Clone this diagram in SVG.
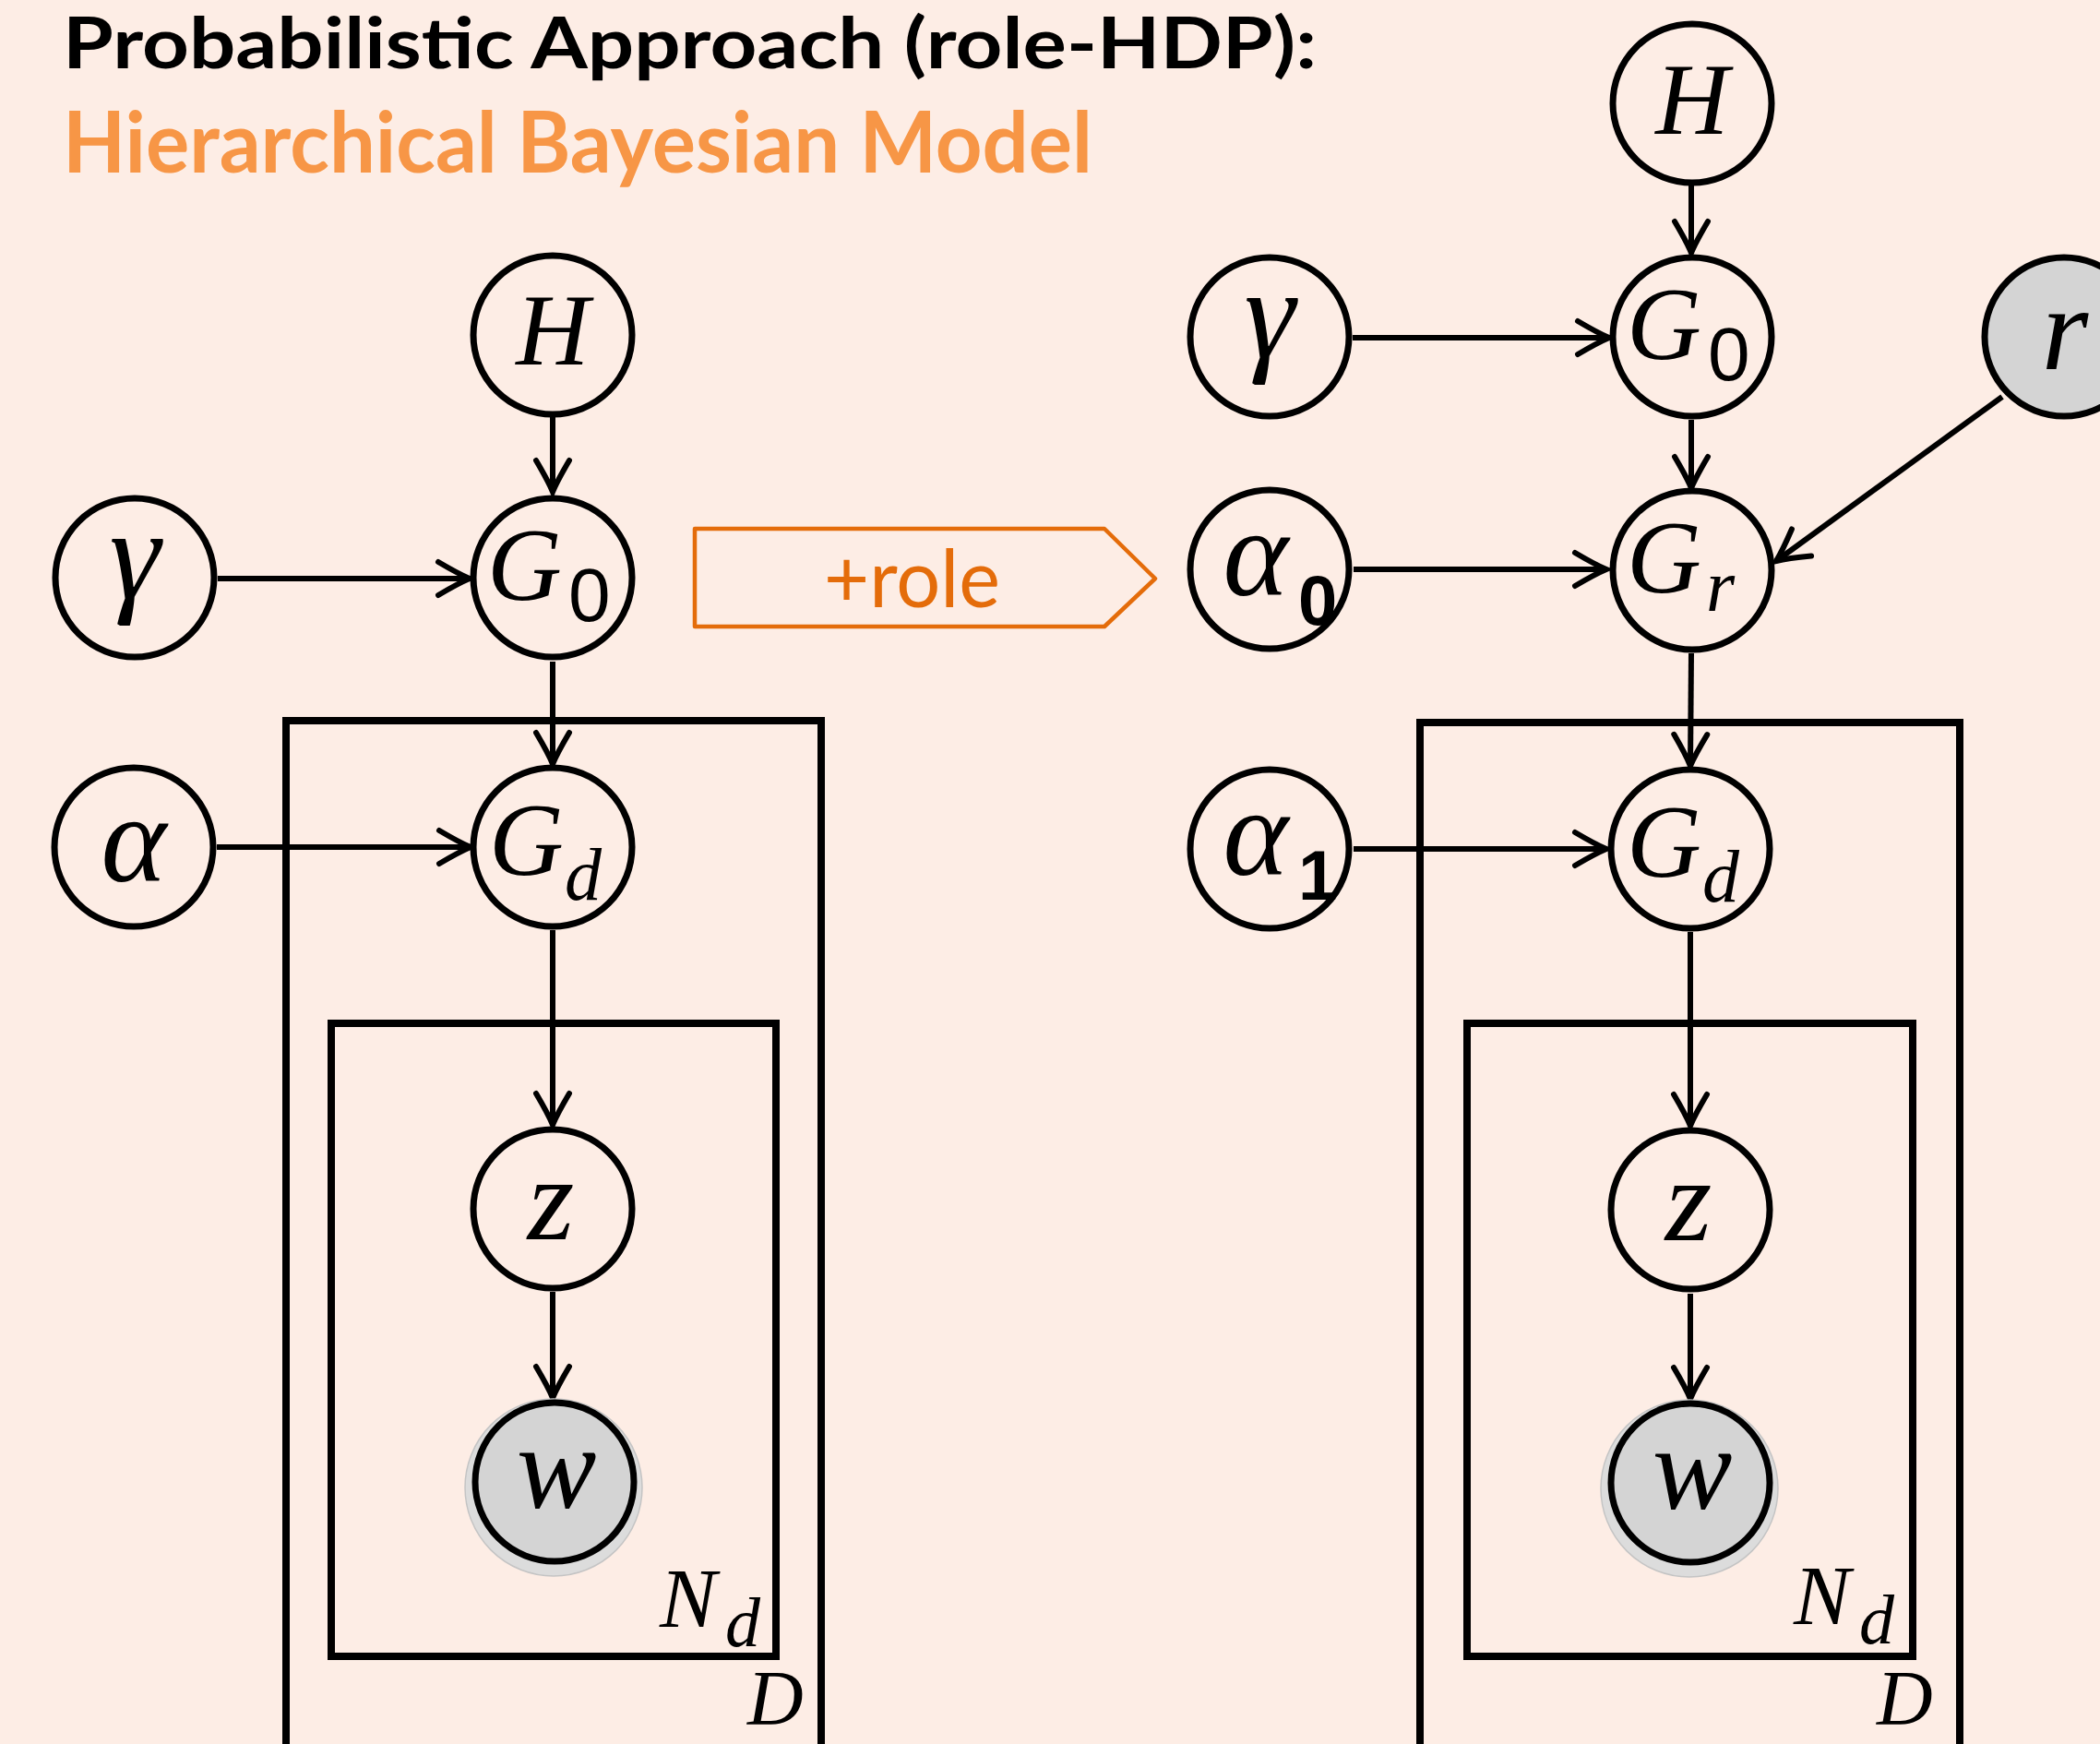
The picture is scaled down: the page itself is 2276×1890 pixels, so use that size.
<svg xmlns="http://www.w3.org/2000/svg" width="2276" height="1890" viewBox="0 0 2276 1890">
<style>
.bg{fill:#FDEDE5}
.node{fill:none;stroke:#000;stroke-width:7}
.obs{fill:#D4D4D4;stroke:#000;stroke-width:7}
.halo{fill:#DCDCDC;stroke:#C4C4C4;stroke-width:1.5}
.plate{fill:none;stroke:#000;stroke-width:8}
.edge{fill:none;stroke:#000;stroke-width:6}
.m{font-family:"Liberation Serif","DejaVu Serif",serif;font-style:italic;fill:#000}
.s{font-family:"Liberation Sans","DejaVu Sans",sans-serif;fill:#000}
.sb{font-family:"Liberation Sans","DejaVu Sans",sans-serif;font-weight:bold;fill:#000}
.t1{font-family:Lato,"Open Sans","Liberation Sans",sans-serif;font-weight:bold;fill:#000;font-size:76px}
.t2{font-family:Lato,"Open Sans","Liberation Sans",sans-serif;font-weight:bold;fill:#F79646;font-size:92px}
.role{fill:none;stroke:#E46C0A;stroke-width:4.5;stroke-linejoin:round}
.roletxt{font-family:Lato,"Open Sans","Liberation Sans",sans-serif;fill:#E46C0A;font-size:88px}
</style>
<defs>
<marker id="arr" viewBox="-40 -22 46 44" refX="0" refY="0" markerWidth="46" markerHeight="44" markerUnits="userSpaceOnUse" orient="auto">
<path d="M-34,-18 Q-12,-5 0,0 Q-12,5 -34,18" fill="none" stroke="#000" stroke-width="6" stroke-linecap="round"/>
</marker>
</defs>
<rect class="bg" x="0" y="0" width="2276" height="1890"/>

<g id="title">
<text class="t1" x="68" y="74" textLength="1359" lengthAdjust="spacingAndGlyphs">Probabilistic Approach (role-HDP):</text>
<text class="t2" x="68" y="187" textLength="1116" lengthAdjust="spacingAndGlyphs">Hierarchical Bayesian Model</text>
</g>

<g id="role-arrow">
<path class="role" d="M753,573 L1197,573 L1252,627 L1197,679 L753,679 Z"/>
<text class="roletxt" x="893" y="658" textLength="191" lengthAdjust="spacingAndGlyphs">+role</text>
</g>

<g id="plates">
<path class="plate" d="M310,1900 L310,781 L890,781 L890,1900"/>
<rect class="plate" x="359" y="1109" width="482" height="686"/>
<text class="m" x="715" y="1763" font-size="92">N</text>
<text class="m" x="786" y="1784" font-size="76">d</text>
<text class="m" x="810" y="1869" font-size="84">D</text>

<path class="plate" d="M1539,1900 L1539,783 L2124,783 L2124,1900"/>
<rect class="plate" x="1590" y="1109" width="483" height="686"/>
<text class="m" x="1944" y="1760" font-size="92">N</text>
<text class="m" x="2015" y="1781" font-size="76">d</text>
<text class="m" x="2034" y="1869" font-size="84">D</text>
</g>

<g id="connectors">
<line class="edge" x1="599" y1="452" x2="599" y2="533" marker-end="url(#arr)"/>
<line class="edge" x1="236" y1="627" x2="509" y2="627" marker-end="url(#arr)"/>
<line class="edge" x1="599" y1="717" x2="599" y2="828" marker-end="url(#arr)"/>
<line class="edge" x1="235" y1="918" x2="510" y2="918" marker-end="url(#arr)"/>
<line class="edge" x1="599" y1="1008" x2="599" y2="1219" marker-end="url(#arr)"/>
<line class="edge" x1="599" y1="1400" x2="599" y2="1515" marker-end="url(#arr)"/>

<line class="edge" x1="1833" y1="201" x2="1833" y2="274" marker-end="url(#arr)"/>
<line class="edge" x1="1466" y1="366" x2="1744" y2="366" marker-end="url(#arr)"/>
<line class="edge" x1="1833" y1="455" x2="1833" y2="529" marker-end="url(#arr)"/>
<line class="edge" x1="2170" y1="430" x2="1925" y2="608" marker-end="url(#arr)"/>
<line class="edge" x1="1467" y1="617" x2="1741" y2="617" marker-end="url(#arr)"/>
<line class="edge" x1="1833" y1="708" x2="1832" y2="830" marker-end="url(#arr)"/>
<line class="edge" x1="1467" y1="920" x2="1741" y2="920" marker-end="url(#arr)"/>
<line class="edge" x1="1832" y1="1010" x2="1832" y2="1220" marker-end="url(#arr)"/>
<line class="edge" x1="1832" y1="1402" x2="1832" y2="1516" marker-end="url(#arr)"/>
</g>

<g id="L-H"><circle class="node" cx="599" cy="363" r="86"/><text class="m" x="599" y="395" font-size="110" text-anchor="middle">H</text></g>
<g id="L-G0"><circle class="node" cx="599" cy="626" r="86"/><text class="m" x="528" y="650" font-size="112">G</text><text class="s" x="616" y="673" font-size="82">0</text></g>
<g id="L-gamma"><circle class="node" cx="146" cy="626" r="86"/><text class="m" x="146" y="648" font-size="140" text-anchor="middle">γ</text></g>
<g id="L-Gd"><circle class="node" cx="599" cy="918" r="86"/><text class="m" x="530" y="948" font-size="112">G</text><text class="m" x="612" y="975" font-size="80">d</text></g>
<g id="L-alpha"><circle class="node" cx="145" cy="918" r="86"/><text class="m" x="145" y="955" font-size="135" text-anchor="middle">α</text></g>
<g id="L-z"><circle class="node" cx="599" cy="1310" r="86"/><text class="m" x="597" y="1343" font-size="130" text-anchor="middle">z</text></g>
<g id="L-w"><circle class="halo" cx="600" cy="1612" r="96"/><circle class="obs" cx="601" cy="1606" r="86"/><text class="m" x="603" y="1634" font-size="130" text-anchor="middle">w</text></g>

<g id="R-H"><circle class="node" cx="1834" cy="112" r="86"/><text class="m" x="1834" y="145" font-size="110" text-anchor="middle">H</text></g>
<g id="R-G0"><circle class="node" cx="1834" cy="365" r="86"/><text class="m" x="1763" y="389" font-size="112">G</text><text class="s" x="1851" y="412" font-size="82">0</text></g>
<g id="R-gamma"><circle class="node" cx="1376" cy="365" r="86"/><text class="m" x="1376" y="387" font-size="140" text-anchor="middle">γ</text></g>
<g id="R-r"><circle class="obs" cx="2237" cy="365" r="86"/><text class="m" x="2238" y="400" font-size="130" text-anchor="middle">r</text></g>
<g id="R-Gr"><circle class="node" cx="1834" cy="618" r="86"/><text class="m" x="1763" y="642" font-size="112">G</text><text class="m" x="1849" y="662" font-size="80">r</text></g>
<g id="R-alpha0"><circle class="node" cx="1376" cy="617" r="86"/><text class="m" x="1361" y="645" font-size="135" text-anchor="middle">α</text><text class="sb" x="1407" y="677" font-size="76">0</text></g>
<g id="R-Gd"><circle class="node" cx="1832" cy="920" r="86"/><text class="m" x="1763" y="950" font-size="112">G</text><text class="m" x="1845" y="977" font-size="80">d</text></g>
<g id="R-alpha1"><circle class="node" cx="1376" cy="920" r="86"/><text class="m" x="1361" y="948" font-size="135" text-anchor="middle">α</text><text class="sb" x="1407" y="975" font-size="76">1</text></g>
<g id="R-z"><circle class="node" cx="1832" cy="1311" r="86"/><text class="m" x="1830" y="1344" font-size="130" text-anchor="middle">z</text></g>
<g id="R-w"><circle class="halo" cx="1831" cy="1613" r="96"/><circle class="obs" cx="1832" cy="1607" r="86"/><text class="m" x="1834" y="1635" font-size="130" text-anchor="middle">w</text></g>
</svg>
